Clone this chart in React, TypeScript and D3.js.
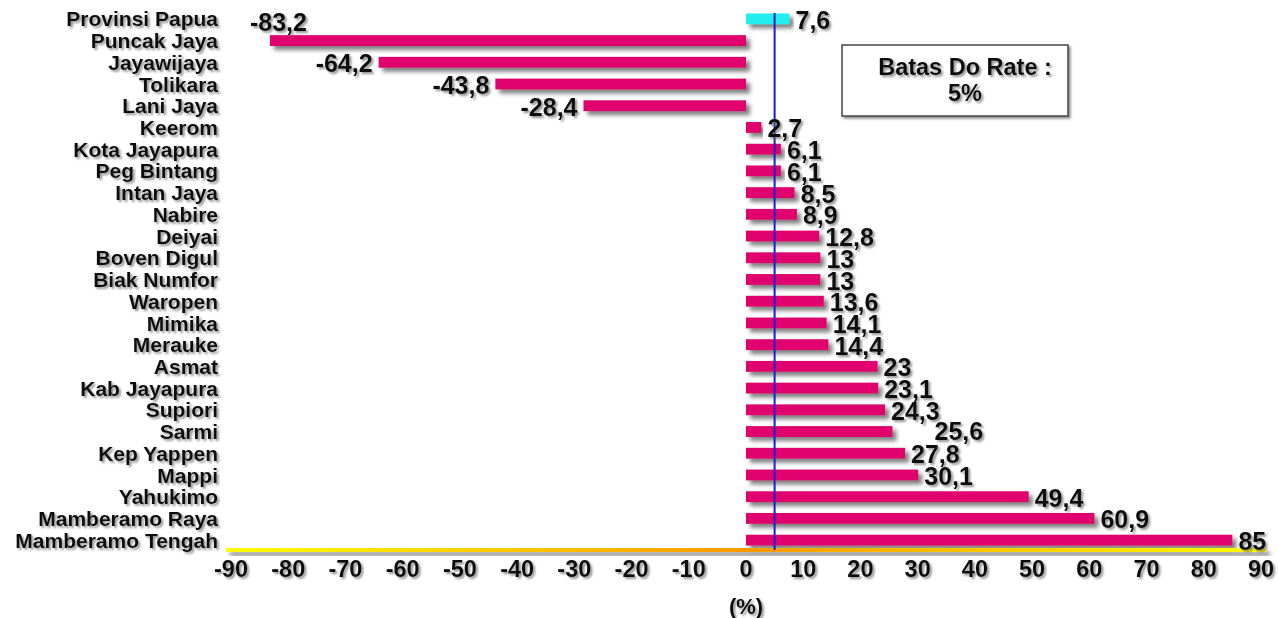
import React from "react";
import * as d3 from "d3";

const categories = [
  "Provinsi Papua", "Puncak Jaya", "Jayawijaya", "Tolikara", "Lani Jaya", "Keerom",
  "Kota Jayapura", "Peg Bintang", "Intan Jaya", "Nabire", "Deiyai", "Boven Digul",
  "Biak Numfor", "Waropen", "Mimika", "Merauke", "Asmat", "Kab Jayapura", "Supiori",
  "Sarmi", "Kep Yappen", "Mappi", "Yahukimo", "Mamberamo Raya", "Mamberamo Tengah",
];
const values = [
  7.6, -83.2, -64.2, -43.8, -28.4, 2.7, 6.1, 6.1, 8.5, 8.9, 12.8, 13, 13, 13.6, 14.1,
  14.4, 23, 23.1, 24.3, 25.6, 27.8, 30.1, 49.4, 60.9, 85,
];
const valueLabels = [
  "7,6", "-83,2", "-64,2", "-43,8", "-28,4", "2,7", "6,1", "6,1", "8,5", "8,9", "12,8", "13",
  "13", "13,6", "14,1", "14,4", "23", "23,1", "24,3", "25,6", "27,8", "30,1", "49,4", "60,9", "85",
];
const xTicks = [-90, -80, -70, -60, -50, -40, -30, -20, -10, 0, 10, 20, 30, 40, 50, 60, 70, 80, 90];
const doRate = 5;
const boxLines = ["Batas Do Rate :", "5%"];
const axisTitle = "(%)";

export default function App() {
  const W = 1279, H = 618;
  const x = d3.scaleLinear().domain([-90, 90]).range([231, 1261]);
  const y = d3.scaleBand<string>().domain(categories).range([8, 551]).paddingInner(0.5).paddingOuter(0.25);
  const bh = y.bandwidth();
  const cy = (c: string) => (y(c) as number) + bh / 2;
  const font = "'Liberation Sans', Arial, sans-serif";
  const axisY = 550;

  return (
    <svg width={W} height={H} style={{ position: "absolute", left: 0, top: 0 }} fontFamily={font}>
      <defs>
        <filter id="sh" x="-5%" y="-50%" width="115%" height="250%">
          <feDropShadow dx="4" dy="4" stdDeviation="2" floodColor="#555" floodOpacity="0.75" />
        </filter>
        <filter id="tsh" x="-20%" y="-20%" width="150%" height="150%">
          <feDropShadow dx="2" dy="2" stdDeviation="1.2" floodColor="#666" floodOpacity="0.7" />
        </filter>
        <linearGradient id="axg" x1="0" x2="1" y1="0" y2="0">
          <stop offset="0%" stopColor="#ffff00" />
          <stop offset="50%" stopColor="#ff9900" />
          <stop offset="100%" stopColor="#ffff00" />
        </linearGradient>
      </defs>
      <rect width={W} height={H} fill="#fff" />
      {/* bars */}
      {categories.map((c, i) => {
        const v = values[i];
        const x0 = x(Math.min(0, v));
        const x1 = x(Math.max(0, v));
        return (
          <rect key={c} x={x0} y={y(c)} width={x1 - x0} height={bh}
            fill={i === 0 ? "#22eeee" : "#e0006e"} filter="url(#sh)" />
        );
      })}
      {/* axis line */}
      <rect x={226} y={axisY - 2} width={1266 - 226} height={4} fill="url(#axg)" filter="url(#sh)" />
      {/* DO rate line */}
      <line x1={x(doRate)} x2={x(doRate)} y1={13} y2={axisY} stroke="#1c1ccc" strokeWidth={2} />
      {/* category labels */}
      {categories.map((c) => (
        <text key={c} x={218} y={cy(c)} dy="0.36em" textAnchor="end" fontSize={21}
          fontWeight="bold" fill="#111" filter="url(#tsh)">{c}</text>
      ))}
      {/* value labels */}
      {categories.map((c, i) => {
        const v = values[i];
        let tx = v >= 0 ? x(v) + 6 : x(v) - 6;
        let ty = cy(c) + 1;
        let anchor = v >= 0 ? "start" : "end";
        if (c === "Puncak Jaya") {
          ty = cy(categories[0]) + 3;
          tx = x(v) - 20;
          anchor = "start";
        }
        if (c === "Sarmi") {
          tx += 36;
          ty -= 2;
        }
        return (
          <text key={c} x={tx} y={ty} dy="0.36em" textAnchor={anchor} fontSize={25}
            fontWeight="bold" fill="#111" filter="url(#tsh)">{valueLabels[i]}</text>
        );
      })}
      {/* ticks */}
      {xTicks.map((t) => (
        <text key={t} x={x(t)} y={569} dy="0.36em" textAnchor="middle" fontSize={23.5}
          fontWeight="bold" fill="#111" filter="url(#tsh)">{t}</text>
      ))}
      <text x={x(0)} y={606} dy="0.36em" textAnchor="middle" fontSize={22} fontWeight="bold"
        fill="#111" filter="url(#tsh)">{axisTitle}</text>
      {/* box */}
      <rect x={842} y={45} width={226} height={71} fill="#fff" stroke="#444" strokeWidth={1.5} filter="url(#tsh)" />
      {boxLines.map((l, i) => (
        <text key={l} x={965} y={67 + i * 26} dy="0.36em" textAnchor="middle" fontSize={23.5}
          fontWeight="bold" fill="#111" filter="url(#tsh)">{l}</text>
      ))}
    </svg>
  );
}
